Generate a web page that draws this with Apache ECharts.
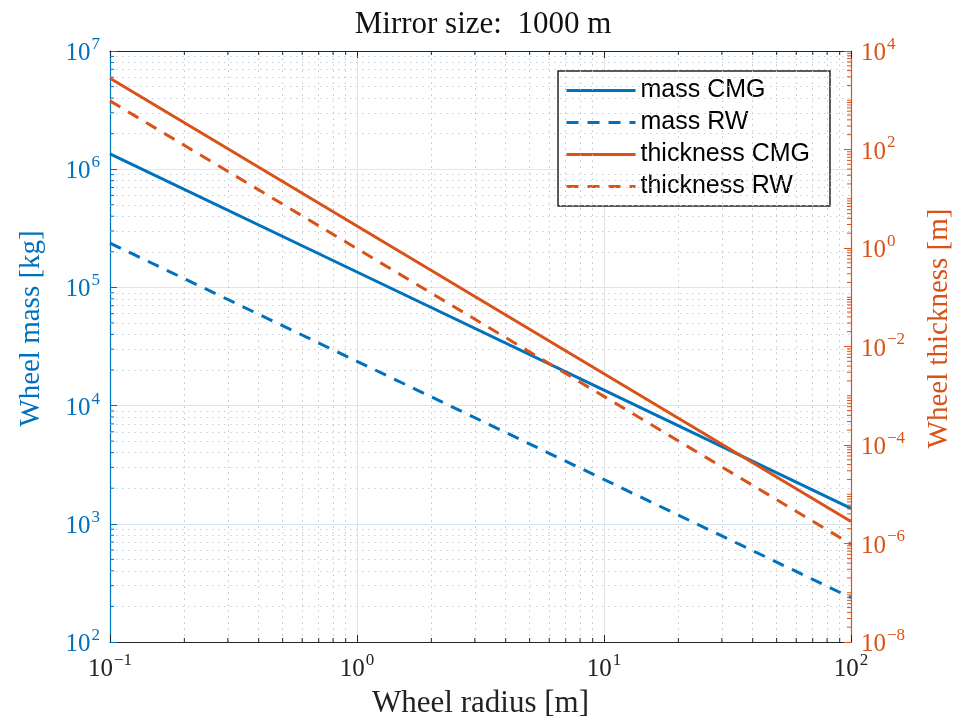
<!DOCTYPE html>
<html><head><meta charset="utf-8">
<script src="https://cdn.jsdelivr.net/npm/echarts@6/dist/echarts.min.js"></script>
<style>html,body{margin:0;padding:0;background:#fff}#c{width:966px;height:724px}</style>
</head><body><div id="c"></div>
<script>
// Data
const radius = [0.1, 1, 10, 100];
const massCMG = [1.35e6, 1.35e5, 1.35e4, 1.35e3];
const massRW = [2.37e5, 2.37e4, 2.37e3, 2.37e2];
const thicknessCMG = [2.8e3, 2.8, 2.8e-3, 2.8e-6];
const thicknessRW = [9.7e2, 0.97, 9.7e-4, 9.7e-7];
// minor grid / tick positions
const xMinor = [0.2,0.3,0.4,0.5,0.6,0.7,0.8,0.9,2,3,4,5,6,7,8,9,20,30,40,50,60,70,80,90];
const yMinor = [];
[1e2,1e3,1e4,1e5,1e6].forEach(d => { for (let k = 2; k <= 9; k++) yMinor.push(k * d); });
const rMinor = [];
for (let e = -8; e < 4; e++) { for (let k = 1; k <= 9; k++) { if (k === 1 && e % 2 === 0) continue; rMinor.push(k * Math.pow(10, e)); } }

const BLUE = '#0072BD', ORANGE = '#D95319', DARK = '#262626';
const SERIF = '"Liberation Serif", "DejaVu Serif", serif';

function sup(v) {
  const e = Math.round(Math.log10(v));
  return '{b|10}{s|' + (e < 0 ? '\u2212' + (-e) : e) + '}';
}
function richFor(color) {
  return {
    b: {fontFamily: SERIF, fontSize: 25, color: color, verticalAlign: 'bottom', lineHeight: 30},
    s: {fontFamily: SERIF, fontSize: 17, color: color, verticalAlign: 'top', padding: [0, 0, 12, 1], lineHeight: 30}
  };
}
const pair = a => radius.map((r, i) => [r, a[i]]);

function tickSeries(name, yIdx, data, color, draw) {
  return {
    type: 'custom', name: name, xAxisIndex: 0, yAxisIndex: yIdx, silent: true, z: 6,
    data: data, clip: false,
    renderItem: function (params, api) {
      return {type: 'group', children: draw(api).map(s => ({
        type: 'line', shape: s, style: {stroke: color, lineWidth: 1}
      }))};
    }
  };
}
const L = 4;
const DASH = [12, 9];

const chart = echarts.init(document.getElementById('c'));
chart.setOption({
  animation: false,
  backgroundColor: '#fff',
  title: {
    text: 'Mirror size:  1000 m', left: 'center', top: 4,
    textStyle: {fontFamily: SERIF, fontSize: 31, fontWeight: 'normal', color: '#111'}
  },
  grid: {left: 110, right: 115, top: 51, bottom: 77, containLabel: false},
  legend: {
    orient: 'vertical', right: 136, top: 71,
    backgroundColor: '#fff', borderColor: DARK, borderWidth: 1.5, borderRadius: 0,
    padding: [7, 20, 7, 7], itemGap: 7, itemWidth: 69, itemHeight: 20,
    itemStyle: {opacity: 0},
    lineStyle: {width: 3},
    textStyle: {fontFamily: '"Liberation Sans", Arial, sans-serif', fontSize: 25, color: '#000'},
    data: ['mass CMG', 'mass RW', 'thickness CMG', 'thickness RW']
  },
  xAxis: [{
    type: 'log', logBase: 10, min: 0.1, max: 100, position: 'bottom',
    name: 'Wheel radius [m]', nameLocation: 'middle', nameGap: 46,
    nameTextStyle: {fontFamily: SERIF, fontSize: 31, color: '#222'},
    axisLine: {lineStyle: {color: DARK, width: 1.2}},
    axisTick: {inside: true, length: 7, lineStyle: {color: DARK}},
    axisLabel: {formatter: sup, rich: richFor('#222'), margin: 10},
    splitLine: {show: true, lineStyle: {color: '#e3e3e3', width: 1}}
  }, {
    type: 'log', logBase: 10, min: 0.1, max: 100, position: 'top',
    axisLine: {lineStyle: {color: DARK, width: 1.2}},
    axisTick: {inside: true, length: 7, lineStyle: {color: DARK}},
    axisLabel: {show: false}, splitLine: {show: false}
  }],
  yAxis: [{
    type: 'log', logBase: 10, min: 1e2, max: 1e7, position: 'left',
    name: 'Wheel mass [kg]', nameLocation: 'middle', nameGap: 64, nameRotate: 90,
    nameTextStyle: {fontFamily: SERIF, fontSize: 29, color: BLUE, padding: [0, 0, 0, 36]},
    axisLine: {show: true, lineStyle: {color: BLUE, width: 1.2}},
    axisTick: {inside: true, length: 7, lineStyle: {color: BLUE}},
    axisLabel: {formatter: sup, rich: richFor(BLUE), margin: 10},
    splitLine: {show: true, lineStyle: {color: '#d9e7f2', width: 1}}
  }, {
    type: 'log', logBase: 10, min: 1e-8, max: 1e4, position: 'right', interval: 2, splitNumber: 6,
    name: 'Wheel thickness [m]', nameLocation: 'middle', nameGap: 74, nameRotate: 90,
    nameTextStyle: {fontFamily: SERIF, fontSize: 29, color: ORANGE, padding: [0, 0, 0, 36]},
    axisLine: {show: true, lineStyle: {color: ORANGE, width: 1.2}},
    axisTick: {inside: true, length: 7, lineStyle: {color: ORANGE}},
    axisLabel: {formatter: sup, rich: richFor(ORANGE), margin: 10},
    splitLine: {show: false}
  }],
  series: [
    {name: 'mass CMG', type: 'line', xAxisIndex: 0, yAxisIndex: 0, data: pair(massCMG), symbol: 'none',
     lineStyle: {color: BLUE, width: 3}, itemStyle: {color: BLUE}, z: 5,
     markLine: {silent: true, symbol: 'none', label: {show: false}, animation: false,
       lineStyle: {color: '#c4c4c4', type: [1.5, 4.5], width: 1},
       data: xMinor.map(v => ({xAxis: v})).concat(yMinor.map(v => ({yAxis: v, lineStyle: {color: '#c0d2e0', type: [1.5, 4.5], width: 1}})))}},
    {name: 'mass RW', type: 'line', xAxisIndex: 0, yAxisIndex: 0, data: pair(massRW), symbol: 'none',
     lineStyle: {color: BLUE, width: 3, type: DASH}, itemStyle: {color: BLUE}, z: 5},
    {name: 'thickness CMG', type: 'line', xAxisIndex: 0, yAxisIndex: 1, data: pair(thicknessCMG), symbol: 'none',
     lineStyle: {color: ORANGE, width: 3}, itemStyle: {color: ORANGE}, z: 5},
    {name: 'thickness RW', type: 'line', xAxisIndex: 0, yAxisIndex: 1, data: pair(thicknessRW), symbol: 'none',
     lineStyle: {color: ORANGE, width: 3, type: DASH}, itemStyle: {color: ORANGE}, z: 5},
    tickSeries('xticks', 0, xMinor.map(v => [v, 1e2]), DARK, api => {
      const b = api.coord([api.value(0), 1e2]), t = api.coord([api.value(0), 1e7]);
      return [{x1: b[0], y1: b[1], x2: b[0], y2: b[1] - L}, {x1: t[0], y1: t[1], x2: t[0], y2: t[1] + L}];
    }),
    tickSeries('lticks', 0, yMinor.map(v => [0.1, v]), BLUE, api => {
      const p = api.coord([0.1, api.value(1)]);
      return [{x1: p[0], y1: p[1], x2: p[0] + L, y2: p[1]}];
    }),
    tickSeries('rticks', 1, rMinor.map(v => [100, v]), ORANGE, api => {
      const p = api.coord([100, api.value(1)]);
      return [{x1: p[0], y1: p[1], x2: p[0] - L, y2: p[1]}];
    })
  ]
});
</script></body></html>
